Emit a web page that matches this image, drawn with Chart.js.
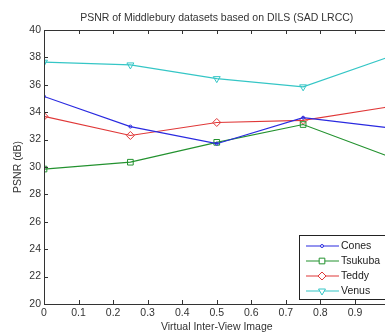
<!DOCTYPE html>
<html>
<head>
<meta charset="utf-8">
<script src="https://cdn.jsdelivr.net/npm/chart.js@4.4.0/dist/chart.umd.min.js"></script>
<style>
  html, body { margin: 0; padding: 0; background: #fff; overflow: hidden; }
  #wrap { width: 400px; height: 332px; }
</style>
</head>
<body>
<div id="wrap"><canvas id="psnrChart"></canvas></div>
<script>
// values
const views = [0, 0.25, 0.5, 0.75, 1];
const cones = [35.15, 32.95, 31.7, 33.6, 32.85];
const tsukuba = [29.85, 30.35, 31.8, 33.1, 30.75];
const teddy = [33.7, 32.3, 33.25, 33.4, 34.4];
const venus = [37.65, 37.45, 36.45, 35.85, 38.05];
const xTicks = [0, 0.1, 0.2, 0.3, 0.4, 0.5, 0.6, 0.7, 0.8, 0.9, 1];
const yTicks = [20, 22, 24, 26, 28, 30, 32, 34, 36, 38, 40];

const FONT = 'Liberation Sans, Arial, sans-serif';
const pts = arr => arr.map((v, i) => ({ x: views[i], y: v }));

// matlab style box, inward ticks, title and legend
const matlabAxes = {
    id: 'matlabAxes',
    afterDraw(chart) {
        const ctx = chart.ctx;
        const a = chart.chartArea;
        const xs = chart.scales.x, ys = chart.scales.y;
        ctx.save();
        ctx.strokeStyle = '#333';
        ctx.lineWidth = 1;
        ctx.strokeRect(Math.round(a.left) + 0.5, Math.round(a.top) + 0.5, a.right - a.left, a.bottom - a.top);
        ctx.beginPath();
        xTicks.forEach(v => {
            const px = Math.round(xs.getPixelForValue(v)) + 0.5;
            ctx.moveTo(px, a.bottom); ctx.lineTo(px, a.bottom - 4);
            ctx.moveTo(px, a.top); ctx.lineTo(px, a.top + 4);
        });
        yTicks.forEach(v => {
            const py = Math.round(ys.getPixelForValue(v)) + 0.5;
            ctx.moveTo(a.left, py); ctx.lineTo(a.left + 4, py);
        });
        ctx.stroke();

        // title
        ctx.fillStyle = '#333';
        ctx.font = '10.5px ' + FONT;
        ctx.textAlign = 'center';
        ctx.textBaseline = 'middle';
        ctx.fillText('PSNR of Middlebury datasets based on DILS (SAD LRCC)', (a.left + a.right) / 2, 18);

        // legend
        const lx = 299.5, ly = 235.5, lw = 90, lh = 64;
        ctx.fillStyle = '#fff';
        ctx.fillRect(lx, ly, lw, lh);
        ctx.strokeStyle = '#222';
        ctx.strokeRect(lx, ly, lw, lh);
        ctx.font = '10.5px ' + FONT;
        ctx.textAlign = 'left';
        chart.data.datasets.forEach((ds, i) => {
            const y = 246 + i * 15;
            ctx.strokeStyle = ds.borderColor;
            ctx.lineWidth = 1.2;
            ctx.beginPath();
            ctx.moveTo(306, y); ctx.lineTo(339, y);
            ctx.stroke();
            ctx.fillStyle = '#fff';
            ctx.lineWidth = 1;
            Chart.helpers.drawPoint(ctx, {
                pointStyle: ds.pointStyle, radius: ds.pointRadius,
                rotation: ds.pointRotation || 0, borderWidth: 1
            }, 322, y);
            ctx.fillStyle = '#222';
            ctx.fillText(ds.label, 341, y);
        });
        ctx.restore();
    }
};

new Chart(document.getElementById('psnrChart'), {
    type: 'line',
    data: {
        datasets: [
            { label: 'Cones', data: pts(cones), borderColor: '#2a2ae0', pointStyle: 'circle', pointRadius: 1.5 },
            { label: 'Tsukuba', data: pts(tsukuba), borderColor: '#23922f', pointStyle: 'rect', pointRadius: 4 },
            { label: 'Teddy', data: pts(teddy), borderColor: '#e03838', pointStyle: 'rectRot', pointRadius: 4 },
            { label: 'Venus', data: pts(venus), borderColor: '#35c6c6', pointStyle: 'triangle', pointRadius: 4, pointRotation: 180 }
        ].map(d => Object.assign({
            borderWidth: 1.2,
            pointBorderColor: d.borderColor,
            pointBackgroundColor: 'rgba(0,0,0,0)',
            pointBorderWidth: 1,
            tension: 0
        }, d))
    },
    options: {
        responsive: true,
        maintainAspectRatio: false,
        animation: false,
        events: [],
        layout: { padding: { top: 30, right: 10.5, left: 0, bottom: 0 } },
        plugins: { legend: { display: false }, title: { display: false }, tooltip: { enabled: false } },
        scales: {
            x: {
                type: 'linear', min: 0, max: 1,
                grid: { display: false, drawTicks: false, tickLength: 0 },
                border: { display: false },
                afterBuildTicks: s => { s.ticks = xTicks.map(v => ({ value: v })); },
                afterFit: s => { s.height = 28; },
                ticks: { color: '#333', font: { size: 10.5, family: FONT }, padding: 3, maxRotation: 0, callback: v => String(v) },
                title: { display: true, text: 'Virtual Inter-View Image', color: '#333', font: { size: 10.5, family: FONT }, padding: { top: 0, bottom: -1 } }
            },
            y: {
                min: 20, max: 40,
                grid: { display: false, drawTicks: false, tickLength: 0 },
                border: { display: false },
                afterBuildTicks: s => { s.ticks = yTicks.map(v => ({ value: v })); },
                afterFit: s => { s.width = 44; },
                ticks: { color: '#333', font: { size: 10.5, family: FONT }, padding: 3, callback: v => String(v) },
                title: { display: true, text: 'PSNR (dB)', color: '#333', font: { size: 10.5, family: FONT }, padding: { top: 12, bottom: 0 } }
            }
        }
    },
    plugins: [matlabAxes]
});
</script>
</body>
</html>
